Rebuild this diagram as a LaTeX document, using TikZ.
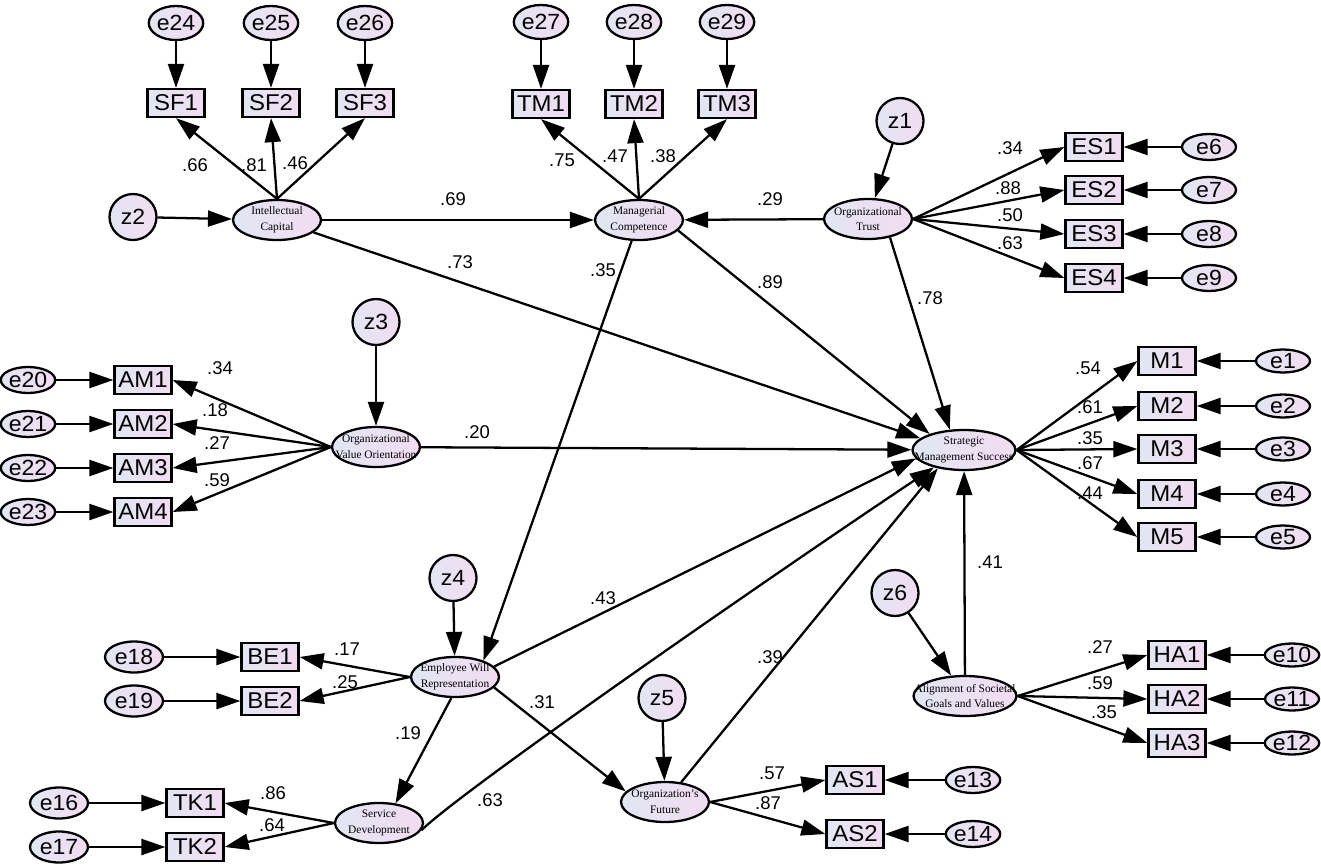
\documentclass[tikz,border=0pt]{standalone}
\usepackage{fontspec}
\setmainfont{Liberation Serif}
\setsansfont{Liberation Sans}
\newfontfamily\amossans[FakeStretch=1.05]{Liberation Sans}
\usepackage{tikz}
\usetikzlibrary{arrows.meta,shapes.geometric}
\definecolor{amosL}{RGB}{226,230,243}
\definecolor{amosR}{RGB}{242,220,242}

\tikzset{
  shade/.style={draw, line width=1.3pt, left color=amosL, right color=amosR},
  obs/.style={shade, minimum width=1.14cm, minimum height=0.56cm, inner sep=1pt,
    font=\amossans\fontsize{13}{15}\selectfont},
  err/.style={shade, ellipse, minimum width=1.08cm, minimum height=0.52cm, inner sep=0pt,
    font=\amossans\fontsize{12.5}{15}\selectfont},
  errtop/.style={err, minimum width=0.92cm, minimum height=0.68cm},
  dist/.style={err, minimum width=0.94cm, minimum height=0.92cm},
  lat/.style={shade, ellipse, minimum width=1.76cm, minimum height=0.8cm,
    inner xsep=-8pt, inner ysep=0pt, align=center, font=\fontsize{6.5}{9}\selectfont},
  latwide/.style={lat, minimum width=2.06cm},
  reg/.style={line width=1.3pt, -{Triangle[length=0.48cm,width=0.32cm]}},
  lbl/.style={font=\sffamily\fontsize{10.5}{12}\selectfont, inner sep=0pt},
}

\begin{document}
\begin{tikzpicture}[x=0.02cm,y=-0.02cm]
\useasboundingbox (0,0) rectangle (1321,865);

% latent variables
\node[lat] (ic) at (277,220) {Intellectual\\Capital};
\node[lat] (mc) at (639,220) {Managerial\\Competence};
\node[lat] (ot) at (868,219) {Organizational\\Trust};
\node[lat] (ovo) at (376,447) {Organizational\\Value Orientation};
\node[latwide] (sms) at (964,450) {Strategic\\Management Success};
\node[lat] (ewr) at (455,677) {Employee Will\\Representation};
\node[lat] (sd) at (379,823) {Service\\Development};
\node[lat] (of) at (665,802) {Organization's\\Future};
\node[latwide] (asgv) at (965,696) {Alignment of Societal\\Goals and Values};

% disturbances
\node[dist] (z1) at (900,121) {z1};
\node[dist] (z2) at (133,217) {z2};
\node[dist] (z3) at (376,322) {z3};
\node[dist] (z4) at (453,578) {z4};
\node[dist] (z5) at (662,698) {z5};
\node[dist] (z6) at (895,593) {z6};

% indicators and errors
\foreach \i/\e/\x in {1/24/176,2/25/271,3/26/365}{
  \node[obs] (sf\i) at (\x,103) {SF\i};
  \node[errtop] (e\e) at (\x,23) {e\e};
  \draw[reg] (e\e) -- (sf\i);
  \draw[reg] (ic.north) -- (sf\i.south);
}
\foreach \i/\e/\x in {1/27/541,2/28/634,3/29/727}{
  \node[obs] (tm\i) at (\x,104) {TM\i};
  \node[errtop] (e\e) at (\x,22) {e\e};
  \draw[reg] (e\e) -- (tm\i);
  \draw[reg] (mc.north) -- (tm\i.south);
}
\foreach \i/\e/\y in {1/6/147,2/7/190,3/8/234,4/9/278}{
  \node[obs] (es\i) at (1094,\y) {ES\i};
  \node[err] (e\e) at (1209,\y) {e\e};
  \draw[reg] (e\e) -- (es\i);
  \draw[reg] (ot.east) -- (es\i.west);
}
\foreach \i/\y in {1/361,2/406,3/449,4/494,5/537}{
  \node[obs] (m\i) at (1167,\y) {M\i};
  \node[err, minimum height=0.46cm] (e\i) at (1283,\y) {e\i};
  \draw[reg] (e\i) -- (m\i);
  \draw[reg] (sms.east) -- (m\i.west);
}
\foreach \i/\e/\y in {1/10/655,2/11/699,3/12/743}{
  \node[obs] (ha\i) at (1177,\y) {HA\i};
  \node[err, minimum height=0.46cm] (e\e) at (1292,\y) {e\e};
  \draw[reg] (e\e) -- (ha\i);
  \draw[reg] (asgv.east) -- (ha\i.west);
}
\foreach \i/\e/\y in {1/13/780,2/14/834}{
  \node[obs] (as\i) at (855,\y) {AS\i};
  \node[err] (e\e) at (973,\y) {e\e};
  \draw[reg] (e\e) -- (as\i);
  \draw[reg] (of.east) -- (as\i.west);
}
\foreach \i/\e/\y in {1/20/380,2/21/424,3/22/468,4/23/512}{
  \node[obs] (am\i) at (143,\y) {AM\i};
  \node[err] (e\e) at (28,\y) {e\e};
  \draw[reg] (e\e) -- (am\i);
  \draw[reg] (ovo.west) -- (am\i.east);
}
\foreach \i/\e/\y in {1/18/657,2/19/701}{
  \node[obs] (be\i) at (270,\y) {BE\i};
  \node[err, minimum width=1.16cm, minimum height=0.62cm] (e\e) at (134,\y) {e\e};
  \draw[reg] (e\e) -- (be\i);
  \draw[reg] (ewr.west) -- (be\i.east);
}
\foreach \i/\e/\y in {1/16/803,2/17/847}{
  \node[obs] (tk\i) at (195,\y) {TK\i};
  \node[err, minimum width=1.16cm, minimum height=0.62cm] (e\e) at (59,\y) {e\e};
  \draw[reg] (e\e) -- (tk\i);
  \draw[reg] (sd.west) -- (tk\i.east);
}

% structural paths
\draw[reg] (z1) -- (ot);
\draw[reg] (z2) -- (ic);
\draw[reg] (z3) -- (ovo);
\draw[reg] (z4) -- (ewr);
\draw[reg] (z5) -- (of);
\draw[reg] (z6) -- (asgv);
\draw[reg] (ic) -- (mc);
\draw[reg] (ot) -- (mc);
\draw[reg] (ic) -- (sms.165);
\draw[reg] (mc.-15) -- (sms.155);
\draw[reg] (ot.-40) -- (sms.125);
\draw[reg] (ovo) -- (sms);
\draw[reg] (ewr.15) -- (sms.190);
\draw[reg] (sd.-10) .. controls +(40,-40) and +(-150,100) .. (sms.210);
\draw[reg] (of) -- (sms.215);
\draw[reg] (asgv) -- (sms);
\draw[reg] (mc) -- (ewr.30);
\draw[reg] (ewr.-100) -- (sd.50);
\draw[reg] (ewr.-15) -- (of.165);

% estimates
\foreach \n/\t/\x/\y in {a/.66/195/165, b/.81/254/165, c/.46/295/163,
    d/.75/562/160, e/.47/615/156, f/.38/663/156,
    g/.69/453/199, h/.73/460/262, i/.35/603/270, j/.29/770/199,
    k/.89/770/282, l/.78/930/298,
    m/.34/1010/148, n/.88/1008/188, o/.50/1010/215, p/.63/1010/243,
    q/.34/220/368, r/.18/215/410, s/.27/217/443, t/.59/217/480,
    u/.20/477/432,
    v/.54/1088/368, w/.61/1090/407, x/.35/1090/438, y/.67/1090/463, z/.44/1090/493,
    A/.41/990/562,
    B/.27/1100/647, C/.59/1100/683, D/.35/1104/712,
    E/.43/603/598, F/.17/347/649, G/.25/345/682,
    H/.31/542/702, I/.19/408/733, J/.86/273/793, K/.64/272/825,
    L/.63/490/800, M/.39/770/657, N/.57/772/773, O/.87/768/803}{
  \node[lbl] (est\n) at (\x,\y) {\t};
}
\end{tikzpicture}
\end{document}
